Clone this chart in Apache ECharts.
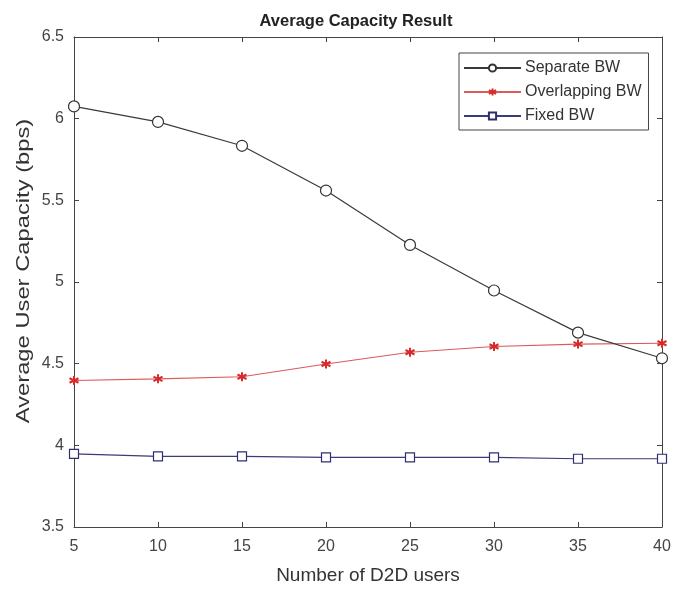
<!DOCTYPE html>
<html>
<head>
<meta charset="utf-8">
<script src="https://cdn.jsdelivr.net/npm/echarts@6/dist/echarts.min.js"></script>
<style>
  html, body { margin: 0; padding: 0; background: #fff; }
  #chart { width: 674px; height: 590px; }
</style>
</head>
<body>
<div id="chart"></div>
<script>
var users = [5, 10, 15, 20, 25, 30, 35, 40];
var separateBW = [6.075, 5.98, 5.834, 5.56, 5.227, 4.948, 4.69, 4.533];
var overlappingBW = [4.397, 4.407, 4.42, 4.498, 4.57, 4.605, 4.62, 4.625];
var fixedBW = [3.948, 3.932, 3.932, 3.926, 3.926, 3.926, 3.918, 3.918];

var font = "Liberation Sans, Arial, sans-serif";
var star = "path://M0,-1L0,1M-0.87,-0.5L0.87,0.5M-0.87,0.5L0.87,-0.5";

function pairs(vals) {
    return vals.map(function(v, i) {
        return [users[i], v];
    });
}

var chart = echarts.init(document.getElementById("chart"), null, { renderer: "canvas" });

var tickStyle = {
    show: true,
    inside: true,
    length: 5,
    lineStyle: { color: "#444", width: 1 }
};

var option = {
    backgroundColor: "#fff",
    animation: false,
    title: {
        text: "Average Capacity Result",
        left: 351,
        top: 8,
        textAlign: "center",
        textStyle: { fontFamily: font, fontSize: 16.5, fontWeight: "bold", color: "#222" }
    },
    // the y label is drawn as text so it can be stretched like the source picture
    graphic: [{
        type: "text",
        x: 24,
        y: 271,
        rotation: Math.PI / 2,
        scaleX: 1.25,
        style: {
            text: "Average User Capacity (bps)",
            fontFamily: font,
            fontSize: 19,
            fill: "#333",
            align: "center",
            verticalAlign: "middle"
        }
    }],
    grid: { left: 74, right: 12, top: 37, bottom: 59 },
    legend: {
        orient: "vertical",
        left: 459,
        top: 53,
        width: 190,
        padding: [7, 7, 6, 4],
        itemGap: 8,
        itemWidth: 57,
        itemHeight: 9,
        borderColor: "#444",
        borderWidth: 1,
        backgroundColor: "#fff",
        textStyle: { fontFamily: font, fontSize: 16, color: "#333", padding: [0, 0, 0, -1] },
        data: ["Separate BW", "Overlapping BW", "Fixed BW"]
    },
    xAxis: [{
        type: "value",
        min: 5,
        max: 40,
        interval: 5,
        name: "Number of D2D users",
        nameLocation: "middle",
        nameGap: 39,
        nameTextStyle: { fontFamily: font, fontSize: 19, color: "#333" },
        axisLine: { lineStyle: { color: "#444" } },
        axisTick: tickStyle,
        axisLabel: { fontFamily: font, fontSize: 16, color: "#444", margin: 12 },
        splitLine: { show: false }
    }, {
        type: "value",
        position: "top",
        min: 5,
        max: 40,
        interval: 5,
        axisLine: { show: true, lineStyle: { color: "#444" } },
        axisTick: tickStyle,
        axisLabel: { show: false },
        splitLine: { show: false }
    }],
    yAxis: [{
        type: "value",
        min: 3.5,
        max: 6.5,
        interval: 0.5,
        axisLine: { show: true, lineStyle: { color: "#444" } },
        axisTick: tickStyle,
        axisLabel: { fontFamily: font, fontSize: 16, color: "#444", margin: 10 },
        splitLine: { show: false }
    }, {
        type: "value",
        position: "right",
        min: 3.5,
        max: 6.5,
        interval: 0.5,
        axisLine: { show: true, lineStyle: { color: "#444" } },
        axisTick: tickStyle,
        axisLabel: { show: false },
        splitLine: { show: false }
    }],
    series: [{
        name: "Separate BW",
        type: "line",
        data: pairs(separateBW),
        symbol: "circle",
        symbolSize: 11,
        showAllSymbol: true,
        lineStyle: { color: "#3a3a3a", width: 1.2 },
        itemStyle: { color: "#fff", borderColor: "#333", borderWidth: 1.2 },
        z: 3
    }, {
        name: "Overlapping BW",
        type: "line",
        data: pairs(overlappingBW),
        symbol: star,
        symbolSize: 9,
        lineStyle: { color: "#dc5a5a", width: 1.2 },
        itemStyle: { color: "#d62b2b", borderColor: "#d62b2b", borderWidth: 2 },
        z: 2
    }, {
        name: "Fixed BW",
        type: "line",
        data: pairs(fixedBW),
        symbol: "rect",
        symbolSize: 9,
        lineStyle: { color: "#3b3b78", width: 1.2 },
        itemStyle: { color: "#fff", borderColor: "#2e2e70", borderWidth: 1.2 },
        z: 2
    }]
};

chart.setOption(option);
</script>
</body>
</html>
